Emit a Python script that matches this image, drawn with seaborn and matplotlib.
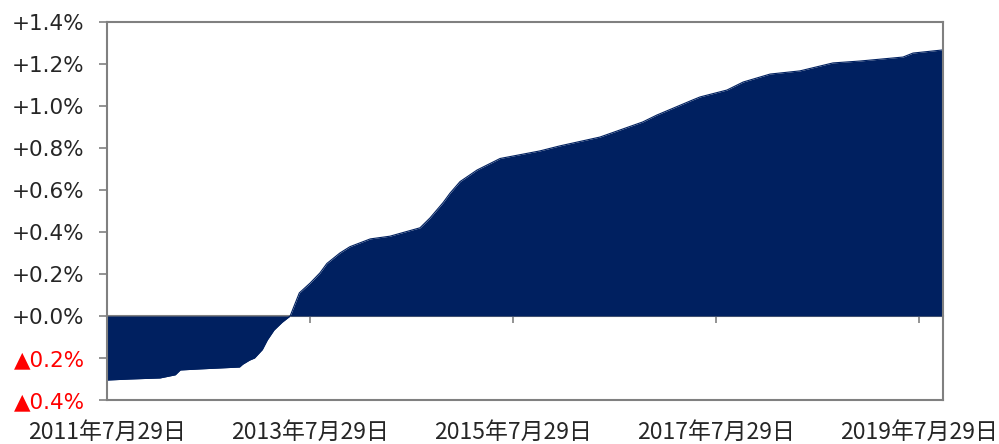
import pandas as pd
import numpy as np
import seaborn as sns
import matplotlib.pyplot as plt
import matplotlib.dates as mdates

# values (cumulative difference, %)
dates = ["2011-07-29", "2011-10-20", "2012-02-05", "2012-03-31", "2012-04-18",
         "2012-06-27", "2012-11-17", "2012-11-28", "2012-12-23", "2013-01-10",
         "2013-02-07", "2013-02-25", "2013-03-21", "2013-04-19", "2013-05-18",
         "2013-06-20", "2013-07-29", "2013-09-02", "2013-09-27", "2013-11-13",
         "2013-12-19", "2014-03-02", "2014-05-12", "2014-08-28", "2014-10-03",
         "2014-11-19", "2014-12-14", "2015-01-19", "2015-03-21", "2015-06-12",
         "2015-11-02", "2016-01-13", "2016-06-05", "2016-11-06", "2016-12-27",
         "2017-05-05", "2017-05-31", "2017-09-05", "2017-11-02", "2018-02-07",
         "2018-05-25", "2018-09-21", "2018-12-27", "2019-05-31", "2019-07-06",
         "2019-10-22"]
values = [-0.305, -0.300, -0.295, -0.280, -0.257,
          -0.252, -0.243, -0.230, -0.210, -0.200,
          -0.160, -0.114, -0.067, -0.030, 0.000,
          0.110, 0.157, 0.205, 0.250, 0.300,
          0.330, 0.367, 0.380, 0.420, 0.467,
          0.540, 0.585, 0.640, 0.695, 0.750,
          0.786, 0.810, 0.852, 0.924, 0.957,
          1.029, 1.043, 1.076, 1.114, 1.152,
          1.167, 1.205, 1.214, 1.233, 1.252,
          1.267]

xtick_dates = ["2011-07-29", "2013-07-29", "2015-07-29", "2017-07-29", "2019-07-29"]
yticks = [-0.4, -0.2, 0.0, 0.2, 0.4, 0.6, 0.8, 1.0, 1.2, 1.4]

df = pd.DataFrame({"date": pd.to_datetime(dates), "value": values})

sns.set_style("white")
plt.rcParams["font.family"] = ["DejaVu Sans", "Noto Sans CJK JP"]

navy = "#002060"
gray = "#808080"

fig = plt.figure(figsize=(9.99, 4.44), dpi=100)
ax = fig.add_axes([0.107, 0.0991, 0.837, 0.8514])

sns.lineplot(data=df, x="date", y="value", color=navy, linewidth=0.8, ax=ax)
ax.fill_between(df["date"], df["value"], 0, color=navy, linewidth=0)

ax.set_xlim(df["date"].iloc[0], df["date"].iloc[-1])
ax.set_ylim(-0.4, 1.4)
ax.set_xlabel("")
ax.set_ylabel("")

for s in ax.spines.values():
    s.set_color(gray)
    s.set_linewidth(1.5)

# y axis labels
ax.set_yticks(yticks)
ylabels = []
for v in yticks:
    if v < -1e-9:
        ylabels.append("▲%.1f%%" % abs(v))
    else:
        ylabels.append("+%.1f%%" % v)
ax.set_yticklabels(ylabels, fontsize=15.5)
for lab, v in zip(ax.get_yticklabels(), yticks):
    if v < -1e-9:
        lab.set_color("#FF0000")
ax.tick_params(axis="y", left=True, length=6, width=1.2, color=gray, pad=10)

# x labels at the bottom, without marks
xt = pd.to_datetime(xtick_dates)
ax.set_xticks(xt)
ax.set_xticklabels([f"{d.year}年{d.month}月{d.day}日" for d in xt],
                   fontsize=16.5, family=["Noto Sans CJK JP", "DejaVu Sans"])
ax.tick_params(axis="x", bottom=True, length=0, pad=15)

# zero line with crossing tick marks
zero_pos = (0 - (-0.4)) / (1.4 - (-0.4))
sec = ax.secondary_xaxis(zero_pos)
sec.set_xticks(xt)
sec.tick_params(direction="inout", length=10, width=1.2, color=gray, labelbottom=False)
sec.spines["bottom"].set_color(gray)
sec.spines["bottom"].set_linewidth(1.5)

fig.savefig("out.png", dpi=100)
